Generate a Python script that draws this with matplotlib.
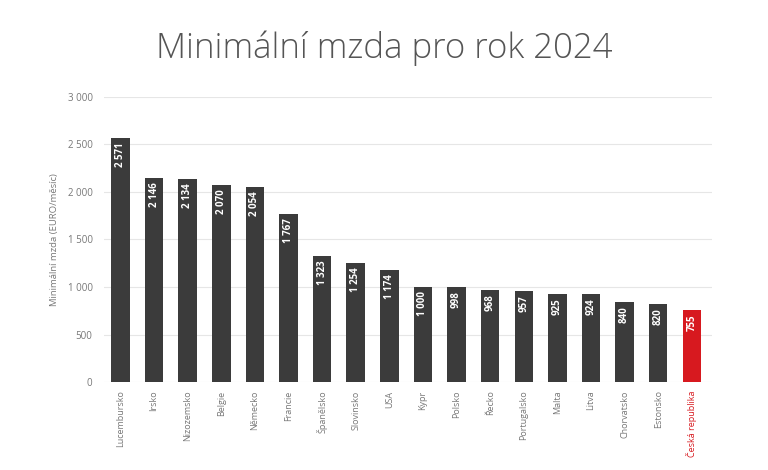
import matplotlib.pyplot as plt

countries = ["Lucembursko", "Irsko", "Nizozemsko", "Belgie", "Německo", "Francie",
             "Španělsko", "Slovinsko", "USA", "Kypr", "Polsko", "Řecko",
             "Portugalsko", "Malta", "Litva", "Chorvatsko", "Estonsko", "Česká republika"]
wages = [2571, 2146, 2134, 2070, 2054, 1767, 1323, 1254, 1174, 1000, 998, 968,
         957, 925, 924, 840, 820, 755]
yticks = [0, 500, 1000, 1500, 2000, 2500, 3000]


def fmt(v):
    return "{:,}".format(v).replace(",", " ")


plt.rcParams['font.family'] = ['Open Sans', 'DejaVu Sans']

fig = plt.figure(figsize=(7.68, 4.70), dpi=100)
ax = fig.add_axes([0.135, 0.187, 0.792, 0.607])

colors = ['#3b3b3b'] * (len(countries) - 1) + ['#d7191f']
x = list(range(len(countries)))
bars = ax.bar(x, wages, width=0.55, color=colors, zorder=2)

for b, v in zip(bars, wages):
    ax.text(b.get_x() + b.get_width() / 2, v - 45, fmt(v), rotation=90,
            ha='center', va='top', color='white', fontsize=7, fontweight='bold')

ax.set_xlim(-0.5, 17.6)
ax.set_ylim(0, 3000)
ax.set_yticks(yticks)
ax.set_yticklabels([fmt(t) for t in yticks])
ax.set_xticks(x)
ax.set_xticklabels(countries, rotation=90)
ax.tick_params(axis='y', length=0, labelsize=7, labelcolor='#777777', pad=8)
ax.tick_params(axis='x', length=0, labelsize=6.5, labelcolor='#777777', pad=6)
ax.get_xticklabels()[-1].set_color('#d7191f')

ax.grid(axis='y', color='#e6e6e6', linewidth=0.8, zorder=0)
for s in ax.spines.values():
    s.set_visible(False)

ax.set_ylabel('Minimální mzda (EURO/měsíc)', fontsize=6.8, color='#777777', labelpad=6)
fig.text(0.5, 0.897, 'Minimální mzda pro rok 2024', ha='center', va='center',
         fontsize=25, color='#555555', fontweight='light')

plt.savefig('out.png')
